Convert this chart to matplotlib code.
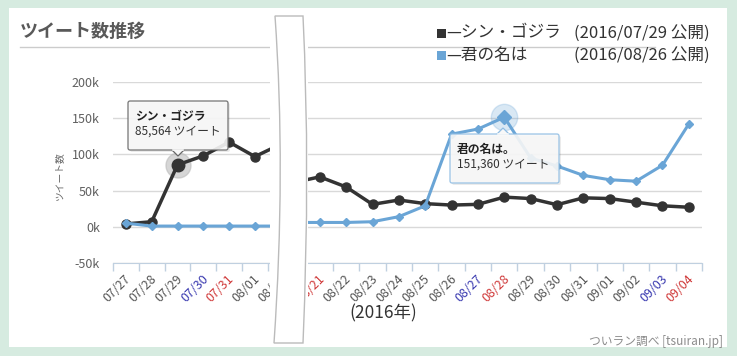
import datetime as dt

import numpy as np
import matplotlib
matplotlib.use("Agg")
import matplotlib.pyplot as plt
from matplotlib.patches import Rectangle, FancyBboxPatch, Polygon, PathPatch
from matplotlib.path import Path
from matplotlib import transforms

plt.rcParams["font.family"] = ["Noto Sans CJK JP", "DejaVu Sans"]

# ---- data ----
left_dates = ["07/27", "07/28", "07/29", "07/30", "07/31", "08/01", "08/02"]
left_godzilla = [4000, 7000, 85564, 98000, 117000, 97000, 114000]
left_kiminona = [5000, 1000, 1000, 1000, 1000, 1000, 1000]

right_dates = ["08/20", "08/21", "08/22", "08/23", "08/24", "08/25", "08/26",
               "08/27", "08/28", "08/29", "08/30", "08/31", "09/01", "09/02",
               "09/03", "09/04"]
right_godzilla = [61000, 69000, 55000, 31000, 37000, 32000, 30000, 31000,
                  41000, 39000, 30500, 40000, 39000, 34000, 29000, 27000]
right_kiminona = [6000, 6000, 6000, 7000, 14000, 29000, 128000, 135000,
                  151360, 95000, 84000, 71000, 65000, 63000, 85000, 142000]

y_ticks = [-50000, 0, 50000, 100000, 150000, 200000]
y_labels = ["-50k", "0k", "50k", "100k", "150k", "200k"]

GODZILLA = "#333333"
KIMI = "#6aa5d6"
GRID = "#d9d9d9"
AXIS = "#c0d0e0"

W, H = 737, 356
fig = plt.figure(figsize=(W / 100, H / 100), dpi=100)
fig.patch.set_facecolor("#d6ebe0")


def px_rect(x0, y0, x1, y1):
    """pixel box (top-left origin) -> figure fraction rect"""
    return [x0 / W, 1 - y1 / H, (x1 - x0) / W, (y1 - y0) / H]


bg = fig.add_axes([0, 0, 1, 1], zorder=0)
bg.set_xlim(0, W)
bg.set_ylim(H, 0)
bg.axis("off")
bg.add_patch(Rectangle((9, 8), 718, 339, facecolor="white", edgecolor="none"))
bg.plot([20, 655], [47, 47], color="#cccccc", lw=1)
bg.text(20, 31, "ツイート数推移", fontsize=13, fontweight="bold",
        color="#595959", va="center", ha="left")
bg.text(59, 177, "ツイート数", fontsize=7, color="#666666", rotation=90,
        va="center", ha="center")

# legend
for row, (col, name, release) in enumerate([
        (GODZILLA, "—シン・ゴジラ", "(2016/07/29 公開)"),
        (KIMI, "—君の名は", "(2016/08/26 公開)")]):
    yc = 33 + row * 22
    bg.add_patch(Rectangle((437, yc - 4.5), 9, 9, facecolor=col, edgecolor="none"))
    bg.text(446, yc, name, fontsize=12, color="#333333", va="center", ha="left")
    bg.text(710, yc, release, fontsize=12, color="#333333", va="center", ha="right")

bg.text(383, 313, "(2016年)", fontsize=12.5, color="#333333", ha="center", va="center")
bg.text(723, 342, "ついラン調べ [tsuiran.jp]", fontsize=8.5, color="#8c8c8c",
        ha="right", va="center")


def label_color(md):
    wd = dt.date(2016, int(md[:2]), int(md[3:])).weekday()
    return {5: "#3a3ab0", 6: "#d03a3a"}.get(wd, "#555555")


def setup_axis(ax, dates, xlim, show_y):
    n = len(dates)
    ax.set_ylim(-50000, 200000)
    ax.set_yticks(y_ticks)
    ax.yaxis.grid(True, color=GRID, lw=1)
    ax.set_axisbelow(True)
    if show_y:
        ax.set_yticklabels(y_labels, fontsize=9, color="#606060")
        ax.tick_params(axis="y", length=0, pad=9.5)
    else:
        ax.tick_params(axis="y", length=0, labelleft=False)
    ax.set_xticks(np.arange(n + 1) - 0.5)
    ax.set_xticklabels([])
    ax.set_xlim(*xlim)
    ax.tick_params(axis="x", length=6, width=1, color=AXIS, direction="out")
    for s in ("left", "right", "top"):
        ax.spines[s].set_visible(False)
    ax.spines["bottom"].set_color(AXIS)
    ax.patch.set_alpha(0)
    trans = transforms.offset_copy(
        transforms.blended_transform_factory(ax.transData, ax.transAxes),
        fig=fig, x=3, y=-14, units="dots")
    lo, hi = xlim
    for i, d in enumerate(dates):
        if i < lo or i > hi + 0.8:
            continue
        ax.text(i, 0, d, transform=trans, rotation=45, rotation_mode="anchor",
                ha="right", va="center", fontsize=9, color=label_color(d),
                clip_on=False)


def draw_series(ax, godzilla, kimi):
    x = np.arange(len(godzilla))
    ax.plot(x, godzilla, color=GODZILLA, lw=2.5, marker="o", ms=6.5,
            zorder=3, clip_on=True)
    ax.plot(x, kimi, color=KIMI, lw=2.2, marker="D", ms=4.2,
            zorder=4, clip_on=True)


ax_l = fig.add_axes(px_rect(113, 82, 270, 263), zorder=1)
draw_series(ax_l, left_godzilla, left_kiminona)
setup_axis(ax_l, left_dates, (-0.5, -0.5 + 157 / 25.8), True)
hi_l = left_dates.index("07/29")
ax_l.plot(hi_l, left_godzilla[hi_l], "o", ms=18, color="#bbbbbb", alpha=0.6, zorder=2)
ax_l.plot(hi_l, left_godzilla[hi_l], "o", ms=9, color=GODZILLA, zorder=5)

ax_r = fig.add_axes(px_rect(308, 82, 702, 263), zorder=1)
draw_series(ax_r, right_godzilla, right_kiminona)
setup_axis(ax_r, right_dates, (15.5 - 394 / 26.36, 15.5), False)
hi_r = right_dates.index("08/28")
ax_r.plot(hi_r, right_kiminona[hi_r], "o", ms=19, color=KIMI, alpha=0.25, zorder=2)
ax_r.plot(hi_r, right_kiminona[hi_r], "D", ms=7, color=KIMI, zorder=5)

# ---- foreground: axis break and tooltips ----
fg = fig.add_axes([0, 0, 1, 1], zorder=3)
fg.set_xlim(0, W)
fg.set_ylim(H, 0)
fg.axis("off")
fg.patch.set_alpha(0)
fg.add_patch(Rectangle((270, 10), 38, 337, facecolor="white", edgecolor="none"))
band = Path([(275, 16), (286, 170), (274, 343), (303, 343),
             (310.5, 170), (303, 16), (275, 16)],
            [Path.MOVETO, Path.CURVE3, Path.CURVE3, Path.LINETO,
             Path.CURVE3, Path.CURVE3, Path.CLOSEPOLY])
fg.add_patch(PathPatch(band, facecolor="white", edgecolor="#bbbbbb", lw=1))


def tooltip(x0, y0, x1, y1, tip, up, edge, title, value):
    fg.add_patch(FancyBboxPatch((x0 + 2, y0 + 2), x1 - x0, y1 - y0,
                                boxstyle="round,pad=0,rounding_size=2",
                                facecolor="black", alpha=0.08, edgecolor="none"))
    fg.add_patch(FancyBboxPatch((x0, y0), x1 - x0, y1 - y0,
                                boxstyle="round,pad=0,rounding_size=2",
                                facecolor="#f8f8f8", alpha=0.9, edgecolor=edge, lw=0.9))
    yb = y0 if up else y1
    dy = -6 if up else 6
    fg.add_patch(Polygon([(tip - 6, yb), (tip, yb + dy), (tip + 6, yb)],
                         closed=False, facecolor="#f8f8f8", edgecolor=edge, lw=0.9))
    fg.plot([tip - 5.2, tip + 5.2], [yb, yb], color="#f8f8f8", lw=1.2)
    fg.text(x0 + 7, y0 + 15, title, fontsize=8.5, fontweight="bold",
            color="#222222", va="center", ha="left")
    fg.text(x0 + 7, y0 + 30, value, fontsize=8.5, color="#333333",
            va="center", ha="left")


tooltip(128, 101, 228, 150, 178, False, "#666666", "シン・ゴジラ", "85,564 ツイート")
tooltip(450, 134, 559, 183, 503, True, "#8fbde3", "君の名は。", "151,360 ツイート")

fig.savefig("out.png", dpi=100, facecolor=fig.get_facecolor())
